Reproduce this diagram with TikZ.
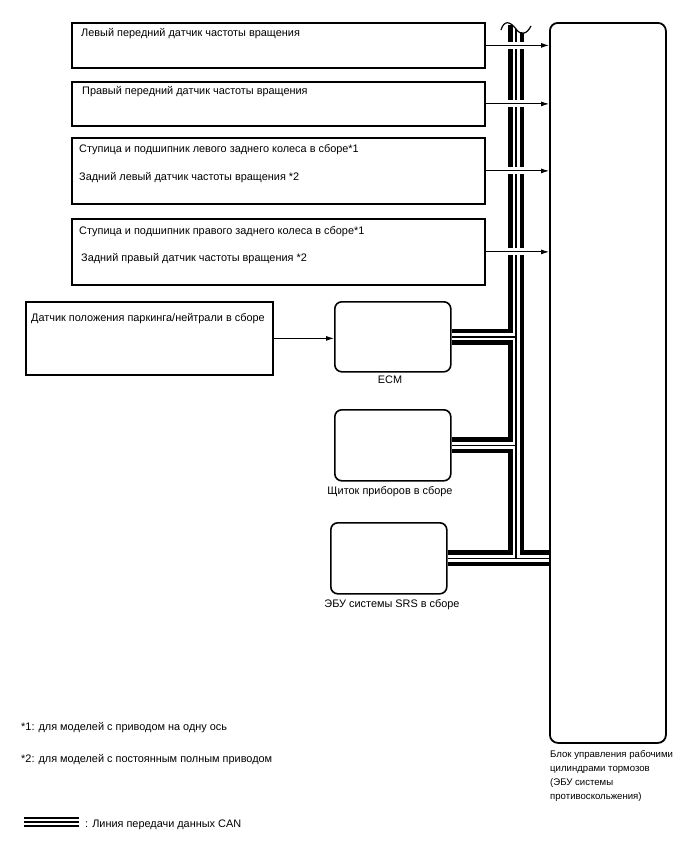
\documentclass[tikz,border=0pt]{standalone}
\usepackage{fontspec}
\setmainfont{Liberation Sans}
\usetikzlibrary{arrows.meta}
\begin{document}
\begin{tikzpicture}[x=1pt,y=-1pt,
  every node/.style={font=\fontsize{10.9}{13}\selectfont, inner sep=0pt},
  sqbox/.style={draw, line width=1.8pt, minimum width=413pt, anchor=north west},
  rbox/.style={draw, line width=1.6pt, rounded corners=7pt, minimum width=116pt, minimum height=70pt, anchor=north west},
  txt/.style={anchor=base west},
  ctxt/.style={anchor=base},
  etxt/.style={anchor=base west, font=\fontsize{9.6}{12}\selectfont},
  arr/.style={line width=0.9pt, -{Latex[length=8pt,width=5pt]}},
  halo/.style={white, line width=7pt}]
\fill[white] (0,0) rectangle (688,852);
\useasboundingbox (0,0) rectangle (688,852);

% boxes
\node[sqbox, minimum height=45pt] (b1) at (71,22) {};
\node[sqbox, minimum height=44pt] (b2) at (71,81) {};
\node[sqbox, minimum height=66pt] (b3) at (71,137) {};
\node[sqbox, minimum height=66pt] (b4) at (71,218) {};
\node[draw, line width=1.8pt, minimum width=247pt, minimum height=73pt, anchor=north west] (b5) at (25,301) {};
\node[rbox] (ecm) at (334,301) {};
\node[rbox, minimum height=71pt] (ins) at (334,409) {};
\node[rbox, minimum height=71pt] (srs) at (330,522) {};
\node[draw, line width=1.8pt, rounded corners=8pt, minimum width=116pt, minimum height=720pt, anchor=north west] (ecu) at (549,22) {};

% texts
\node[txt] (t1) at (81,36) {Левый передний датчик частоты вращения};
\node[txt] (t2) at (82,94) {Правый передний датчик частоты вращения};
\node[txt] (t3a) at (79,152) {Ступица и подшипник левого заднего колеса в сборе*1};
\node[txt] (t3b) at (79,180) {Задний левый датчик частоты вращения *2};
\node[txt] (t4a) at (79,234) {Ступица и подшипник правого заднего колеса в сборе*1};
\node[txt] (t4b) at (81,261) {Задний правый датчик частоты вращения *2};
\node[txt] (t5) at (31,321) {Датчик положения паркинга/нейтрали в сборе};
\node[ctxt] (lecm) at (390,383.5) {ECM};
\node[ctxt] (lins) at (390,494.5) {Щиток приборов в сборе};
\node[ctxt] (lsrs) at (392,607.5) {ЭБУ системы SRS в сборе};
\node[etxt] (le1) at (550,757) {Блок управления рабочими};
\node[etxt] (le2) at (550,771) {цилиндрами тормозов};
\node[etxt] (le3) at (550,785) {(ЭБУ системы};
\node[etxt] (le4) at (550,799) {противоскольжения)};
\node[txt] (f1) at (21,730) {*1: для моделей с приводом на одну ось};
\node[txt] (f2) at (21,762) {*2: для моделей с постоянным полным приводом};
\node[txt] (lg) at (85,827) {: Линия передачи данных CAN};

% CAN bus
\coordinate (bt) at (516,25);
\coordinate (lga) at (24,822);
\coordinate (lgb) at (79,822);
\foreach \w/\c in {16pt/black, 7pt/white, 1.5pt/black}{
  \draw[line width=\w, \c] (bt) -- (bt |- srs.east);
  \draw[line width=\w, \c] (ecm.east) -- (ecm.east -| bt);
  \draw[line width=\w, \c] (ins.east) -- (ins.east -| bt);
  \draw[line width=\w, \c] (srs.east) -- (srs.east -| ecu.west);
}
\foreach \w/\c in {10pt/black, 6pt/white, 2pt/black}{
  \draw[line width=\w, \c] (lga) -- (lgb);
}
% break mark
\fill[white] (500,10) -- (500,30) .. controls (504,20) and (510,21) .. (516,29) .. controls (521,36) and (527,34) .. (531,26) -- (531,10) -- cycle;
\draw[line width=1.2pt] (501,30) .. controls (504,20) and (510,21) .. (516,29) .. controls (521,36) and (527,34) .. (531,26);

% arrows
\foreach \b in {b1,b2,b3,b4}{
  \draw[halo] (\b.east) -- (\b.east -| ecu.west);
  \draw[arr] (\b.east) -- (\b.east -| ecu.west);
}
\draw[arr] (b5.east) -- (b5.east -| ecm.west);
\end{tikzpicture}
\end{document}
